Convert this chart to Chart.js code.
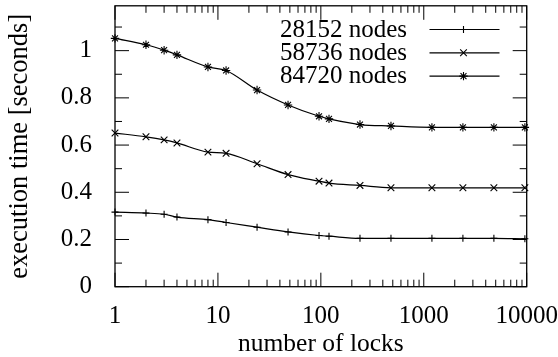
<!DOCTYPE html>
<html>
<head>
<meta charset="utf-8">
<script src="https://cdn.jsdelivr.net/npm/chart.js@4"></script>
<style>
  html, body { margin: 0; padding: 0; background: #fff; }
  #wrap { width: 558px; height: 357px; }
</style>
</head>
<body>
<div id="wrap"><canvas id="chart" width="558" height="357"></canvas></div>
<script>
// Number of locks used in each run (log-scaled x axis)
const locks = [1, 2, 3, 4, 8, 12, 24, 48, 96, 120, 240, 480, 1200, 2400, 4800, 9600];

// Execution time in seconds for each graph size
const time28152 = [0.316, 0.312, 0.307, 0.295, 0.284, 0.272, 0.252, 0.232, 0.217, 0.214, 0.205, 0.205, 0.205, 0.205, 0.205, 0.203];
const time58736 = [0.651, 0.635, 0.622, 0.609, 0.570, 0.565, 0.521, 0.475, 0.447, 0.439, 0.429, 0.419, 0.419, 0.419, 0.419, 0.419];
const time84720 = [1.052, 1.025, 1.002, 0.982, 0.931, 0.916, 0.833, 0.770, 0.722, 0.711, 0.687, 0.681, 0.675, 0.675, 0.675, 0.675];

const seriesLabels = ['28152 nodes', '58736 nodes', '84720 nodes'];
const seriesMarkers = ['cross', 'crossRot', 'star'];
const markerRadii = [3.5, 4.7, 4.2];

// Axis ticks
const xMajorTicks = [1, 10, 100, 1000, 10000];
const yTicks = [0, 0.1, 0.2, 0.3, 0.4, 0.5, 0.6, 0.7, 0.8, 0.9, 1.0, 1.1];
const yLabelStep = 0.2;
const yRange = [0, 1.19];

const FONT = '"Liberation Serif", "Times New Roman", serif';
const INK = '#000';

function makeSeries(label, values, marker, radius) {
  return {
    label: label,
    data: locks.map((x, i) => ({ x: x, y: values[i] })),
    borderColor: INK,
    backgroundColor: INK,
    borderWidth: 1.2,
    pointStyle: marker,
    pointRadius: radius,
    pointBorderWidth: 1.1,
    pointBorderColor: INK,
    pointBackgroundColor: INK,
    cubicInterpolationMode: 'monotone',
    clip: false
  };
}

const isMajorY = v => Math.abs(v / yLabelStep - Math.round(v / yLabelStep)) < 1e-6;

// Frame around the plot area plus inward tick marks on all four sides
const framePlugin = {
  id: 'frame',
  beforeDatasetsDraw(chart) {
    const { ctx, chartArea: a, scales: { x, y } } = chart;
    ctx.save();
    ctx.strokeStyle = INK;
    ctx.lineWidth = 1;
    ctx.beginPath();
    // x ticks: decades long, in-between short
    for (let d = 0; d < xMajorTicks.length; d++) {
      const base = xMajorTicks[d];
      const px = x.getPixelForValue(base);
      ctx.moveTo(px, a.bottom); ctx.lineTo(px, a.bottom - 14);
      ctx.moveTo(px, a.top); ctx.lineTo(px, a.top + 14);
      if (d < xMajorTicks.length - 1) {
        for (let m = 2; m <= 9; m++) {
          const mx = x.getPixelForValue(base * m);
          ctx.moveTo(mx, a.bottom); ctx.lineTo(mx, a.bottom - 7);
          ctx.moveTo(mx, a.top); ctx.lineTo(mx, a.top + 7);
        }
      }
    }
    // y ticks
    yTicks.forEach(v => {
      const py = y.getPixelForValue(v);
      const len = isMajorY(v) ? 14 : 7;
      ctx.moveTo(a.left, py); ctx.lineTo(a.left + len, py);
      ctx.moveTo(a.right, py); ctx.lineTo(a.right - len, py);
    });
    ctx.stroke();
    ctx.lineWidth = 1.3;
    ctx.strokeRect(a.left, a.top, a.right - a.left, a.bottom - a.top);
    ctx.restore();
  }
};

// Key in the upper right: right-aligned label followed by a line sample with its marker
const keyPlugin = {
  id: 'key',
  afterDraw(chart) {
    const { ctx } = chart;
    const textRight = 407;
    const lineStart = 429.5;
    const lineEnd = 499.5;
    const markX = 463.5;
    const rowTop = 29.5;
    const rowGap = 23.3;
    ctx.save();
    ctx.font = `25px ${FONT}`;
    ctx.fillStyle = INK;
    ctx.textAlign = 'right';
    ctx.textBaseline = 'middle';
    chart.data.datasets.forEach((ds, i) => {
      const yy = rowTop + i * rowGap;
      ctx.fillText(ds.label, textRight, yy + 0.8);
      ctx.strokeStyle = INK;
      ctx.lineWidth = 1.2;
      ctx.beginPath();
      ctx.moveTo(lineStart, yy);
      ctx.lineTo(lineEnd, yy);
      ctx.stroke();
      ctx.lineWidth = 1.1;
      Chart.helpers.drawPoint(ctx, { pointStyle: ds.pointStyle, radius: ds.pointRadius, borderWidth: 1.1, rotation: 0 }, markX, yy);
    });
    ctx.restore();
  }
};

new Chart(document.getElementById('chart'), {
  type: 'line',
  data: {
    datasets: [
      makeSeries(seriesLabels[0], time28152, seriesMarkers[0], markerRadii[0]),
      makeSeries(seriesLabels[1], time58736, seriesMarkers[1], markerRadii[1]),
      makeSeries(seriesLabels[2], time84720, seriesMarkers[2], markerRadii[2])
    ]
  },
  options: {
    responsive: false,
    devicePixelRatio: 1,
    animation: false,
    font: { family: FONT },
    layout: { padding: { top: 4, right: 31.3, left: 0, bottom: 0 } },
    plugins: {
      legend: { display: false },
      tooltip: { enabled: false }
    },
    scales: {
      x: {
        type: 'logarithmic',
        min: 1,
        max: 10000,
        grid: { display: false, drawTicks: false },
        border: { display: false },
        afterBuildTicks(s) { s.ticks = xMajorTicks.map(v => ({ value: v })); },
        afterFit(s) { s.height = 70.3; s.paddingLeft = 0; s.paddingRight = 0; },
        ticks: {
          autoSkip: false,
          maxRotation: 0,
          padding: 15,
          color: INK,
          font: { family: FONT, size: 25 },
          callback: v => String(v)
        },
        title: {
          display: true,
          text: 'number of locks',
          color: INK,
          font: { family: FONT, size: 25.5, lineHeight: 1 },
          padding: { top: 0, bottom: 0 }
        }
      },
      y: {
        type: 'linear',
        min: yRange[0],
        max: yRange[1],
        grid: { display: false, drawTicks: false },
        border: { display: false },
        afterBuildTicks(s) { s.ticks = yTicks.map(v => ({ value: v })); },
        afterFit(s) { s.width = 115; s.paddingTop = 0; s.paddingBottom = 0; },
        ticks: {
          autoSkip: false,
          padding: 23,
          color: INK,
          font: { family: FONT, size: 25 },
          callback: v => (isMajorY(v) ? String(Math.round(v * 10) / 10) : '')
        },
        title: {
          display: true,
          text: 'execution time [seconds]',
          color: INK,
          font: { family: FONT, size: 26.5, lineHeight: 1 },
          padding: { top: 6.8, bottom: 0 }
        }
      }
    }
  },
  plugins: [framePlugin, keyPlugin]
});
</script>
</body>
</html>
